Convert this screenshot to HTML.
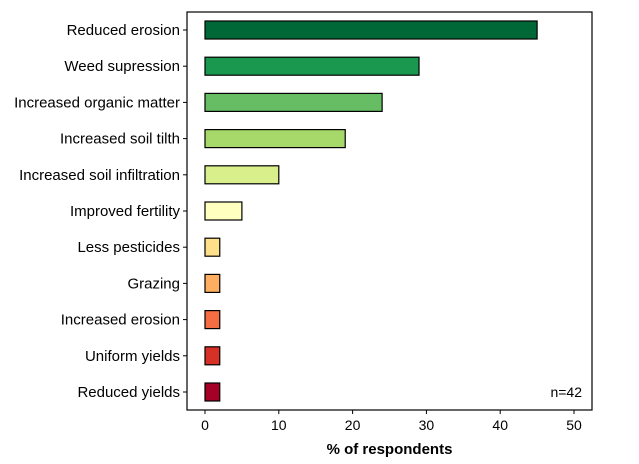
<!DOCTYPE html>
<html><head><meta charset="utf-8"><style>
body{margin:0;background:#fff;}
svg{display:block;font-family:"Liberation Sans",Arial,sans-serif;}
</style></head><body>
<svg id="chart" width="639" height="464"></svg>
<script>
const categories=["Reduced erosion","Weed supression","Increased organic matter","Increased soil tilth","Increased soil infiltration","Improved fertility","Less pesticides","Grazing","Increased erosion","Uniform yields","Reduced yields"];
const values=[45,29,24,19,10,5,2,2,2,2,2];
const colors=["#006837","#1a9850","#66bd63","#a6d96a","#d9ef8b","#ffffbf","#fee08b","#fdae61","#f46d43","#d73027","#a50026"];
const ticks=[0,10,20,30,40,50];
const NS="http://www.w3.org/2000/svg";
const svg=document.getElementById('chart');
const L=187,R=592,T=12,B=410,x0=205,x50=574;
const x=v=>x0+(x50-x0)*v/50;
const y=i=>30+i*36.2;
function mk(t,a){const e=document.createElementNS(NS,t);for(const k in a)e.setAttribute(k,a[k]);svg.appendChild(e);return e;}
const frame=mk('rect',{x:L,y:T,width:R-L,height:B-T,fill:'none',stroke:'#000','stroke-width':1.2});


categories.forEach((c,i)=>{
  const r=mk('rect',{x:x(0),y:y(i)-9,width:x(values[i])-x(0),height:18,fill:colors[i],stroke:'#000','stroke-width':1.2});
  
  
  const tk=mk('line',{x1:L-4,x2:L,y1:y(i),y2:y(i),stroke:'#000'});
  
  
  const t=mk('text',{x:L-7,y:y(i)+5,'text-anchor':'end','font-size':15,fill:'#000'});
  t.textContent=c;
  
  
});
ticks.forEach(v=>{
  const tk=mk('line',{x1:x(v),x2:x(v),y1:B,y2:B+4,stroke:'#000'});
  
  
  const t=mk('text',{x:x(v),y:B+20,'text-anchor':'middle','font-size':14,fill:'#000'});
  t.textContent=v;
  
  
});
const xt=mk('text',{x:(L+R)/2,y:454,'text-anchor':'middle','font-size':15,'font-weight':'bold',fill:'#000'});
xt.textContent='% of respondents';


const n=mk('text',{x:582,y:397,'text-anchor':'end','font-size':14,fill:'#000'});
n.textContent='n=42';


</script>
</body></html>
